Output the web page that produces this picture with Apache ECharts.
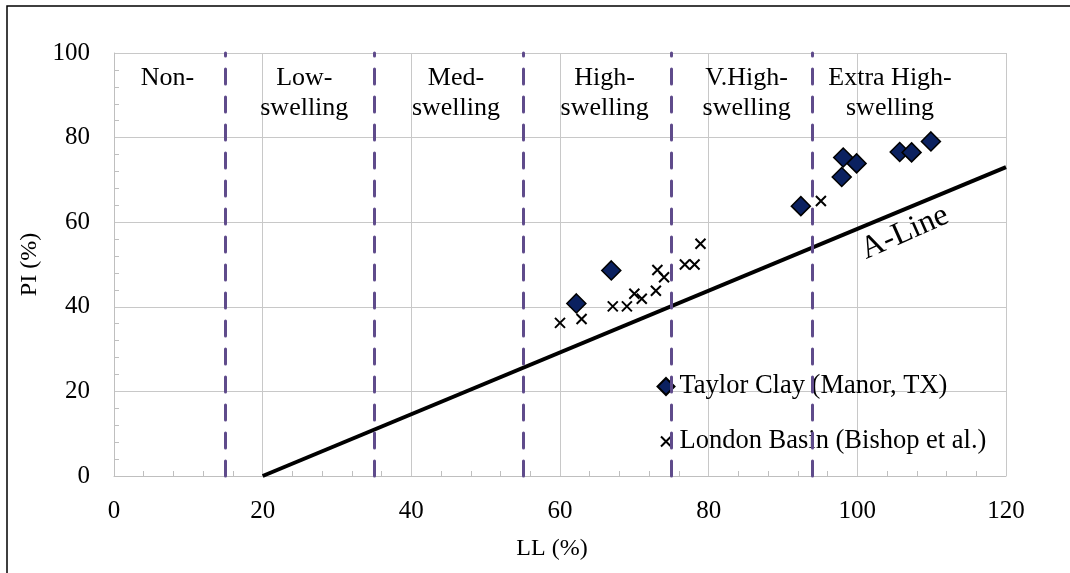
<!DOCTYPE html>
<html><head><meta charset="utf-8">
<script src="https://cdn.jsdelivr.net/npm/echarts@6/dist/echarts.min.js"></script>
<style>html,body{margin:0;padding:0;background:#fff}#c{width:1070px;height:573px}</style>
</head><body><div id="c"></div>
<script>
const taylorLL = [62.2, 66.9, 92.4, 97.9, 98.1, 99.9, 105.7, 107.3, 109.9];
const taylorPI = [40.8, 48.6, 63.8, 70.7, 75.3, 73.9, 76.6, 76.5, 79.1];
const londonLL = [60.0, 62.9, 67.1, 69.0, 70.0, 71.0, 72.9, 73.1, 74.0, 76.8, 78.1, 78.9, 95.1];
const londonPI = [36.2, 37.1, 40.1, 40.1, 43.1, 41.9, 43.8, 48.7, 47.0, 50.0, 50.0, 54.9, 65.0];
const aLineLL = [20, 120];
const aLinePI = [0, 73];
const zoneBounds = [15, 35, 55, 75, 94];
const zoneLabels = ['Non-', 'Low-\nswelling', 'Med-\nswelling', 'High-\nswelling', 'V.High-\nswelling', 'Extra High-\nswelling'];
const zoneLabelLL = [7.2, 25.6, 46, 66.0, 85.1, 104.4];
const zoneLabelPI = [94.0, 90.6, 90.6, 90.6, 90.6, 90.6];
const aLineLabel = {text: 'A-Line', LL: 106.4, PI: 57.5};

const FONT = 'Liberation Serif';
const zip = (a, b) => a.map((v, i) => [v, b[i]]);
const CROSS = 'path://M0,0L10,10M0,10L10,0';
const CROSS_LEGEND = 'path://M-3.5,-3.5M13.5,13.5M0,0L10,10M0,10L10,0';

const chart = echarts.init(document.getElementById('c'), null, {renderer: 'canvas'});
const axisCommon = {
  axisLine: {show: true, lineStyle: {color: '#bfbfbf', width: 1}},
  axisTick: {show: false, inside: true},
  minorTick: {show: true, splitNumber: 5, length: 5, lineStyle: {color: '#bfbfbf', width: 1}},
  splitLine: {show: true, lineStyle: {color: '#c8c8c8', width: 1}},
  axisLabel: {color: '#000', fontFamily: FONT, fontSize: 25},
  nameTextStyle: {color: '#000', fontFamily: FONT, fontSize: 24}
};
const textLabel = {show: true, position: 'inside', color: '#000', opacity: 1, fontFamily: FONT, align: 'center', verticalAlign: 'middle'};
chart.setOption({
  animation: false,
  backgroundColor: '#fff',
  grid: {left: 114, right: 64, top: 53, bottom: 97, containLabel: false},
  xAxis: Object.assign({}, axisCommon, {
    type: 'value', min: 0, max: 120, interval: 20,
    name: 'LL (%)', nameLocation: 'middle', nameGap: 61,
    nameTextStyle: Object.assign({}, axisCommon.nameTextStyle, {padding: [0, 16, 0, 0]}),
    axisLabel: Object.assign({}, axisCommon.axisLabel, {margin: 23})
  }),
  yAxis: Object.assign({}, axisCommon, {
    type: 'value', min: 0, max: 100, interval: 20,
    name: 'PI (%)', nameLocation: 'middle', nameGap: 69, nameRotate: 90,
    axisLabel: Object.assign({}, axisCommon.axisLabel, {margin: 24})
  }),
  legend: {
    orient: 'vertical', left: 651.5, top: 368, itemGap: 28, padding: 5,
    itemWidth: 17, itemHeight: 17, itemTextGap: 3,
    textStyle: {color: '#000', fontFamily: FONT, fontSize: 26.5},
    data: [
      {name: 'Taylor Clay (Manor, TX)'},
      {name: 'London Basin (Bishop et al.)', icon: CROSS_LEGEND}
    ]
  },
  graphic: [{
    type: 'rect', z: -10, silent: true,
    shape: {x: 7, y: 6, width: 1200, height: 700},
    style: {fill: 'none', stroke: '#000', lineWidth: 1.5}
  }],
  series: [
    {
      name: 'zones', type: 'line', data: [], silent: true,
      markLine: {
        silent: true, symbol: 'none', animation: false,
        label: {show: false},
        lineStyle: {color: '#5f4b8b', width: 3, type: [15, 13], cap: 'round'},
        data: zoneBounds.map(v => ({xAxis: v}))
      }
    },
    {
      name: 'A-Line', type: 'line', data: zip(aLineLL, aLinePI), symbol: 'none',
      lineStyle: {color: '#000', width: 4}, silent: true, z: 3
    },
    {
      name: 'zoneLabels', type: 'scatter', symbolSize: 0, silent: true, z: 4,
      itemStyle: {opacity: 1},
      data: zoneLabels.map((t, i) => ({value: [zoneLabelLL[i], zoneLabelPI[i]], label: {formatter: t}})),
      label: Object.assign({}, textLabel, {fontSize: 26, lineHeight: 30})
    },
    {
      name: 'aLineLabel', type: 'scatter', symbolSize: 0, silent: true, z: 4,
      itemStyle: {opacity: 1},
      data: [{value: [aLineLabel.LL, aLineLabel.PI], label: {formatter: aLineLabel.text}}],
      label: Object.assign({}, textLabel, {rotate: 24, fontSize: 32})
    },
    {
      name: 'Taylor Clay (Manor, TX)', type: 'scatter', symbol: 'diamond', symbolSize: 19, z: 6,
      data: zip(taylorLL, taylorPI),
      itemStyle: {color: '#0b2160', borderColor: '#000', borderWidth: 1.5, opacity: 1}
    },
    {
      name: 'London Basin (Bishop et al.)', type: 'scatter', symbol: CROSS, symbolSize: 10, z: 5,
      data: zip(londonLL, londonPI),
      itemStyle: {color: '#000', borderColor: '#000', borderWidth: 2, opacity: 1}
    }
  ]
});
</script></body></html>
